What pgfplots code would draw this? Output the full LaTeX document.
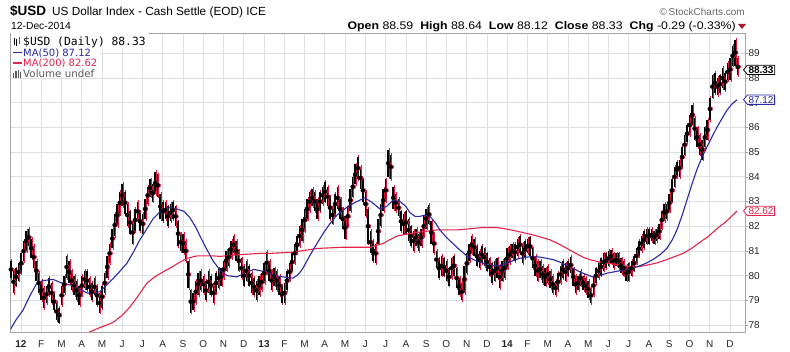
\documentclass[border=0pt]{standalone}
\usepackage{pgfplots}
\usepackage{pgfplotstable}
\pgfplotsset{compat=1.18}
\usepackage{fontspec}
\setmainfont{Liberation Sans}
\newfontfamily\legfont{DejaVu Sans}
\newfontfamily\monofont{DejaVu Sans Mono}
\newfontfamily\widefont[FakeStretch=1.12]{Liberation Sans}
\usetikzlibrary{shapes.symbols}
\definecolor{barred}{RGB}{215,25,60}
\definecolor{mablue}{RGB}{40,40,165}
\definecolor{mared}{RGB}{230,35,75}
\definecolor{gridc}{RGB}{224,224,224}
\definecolor{axc}{RGB}{165,165,165}

\pgfplotstableread{
x lo hi
-0.500 79.9 80.6
-0.375 79.3 80.2
-0.250 79.6 80.3
-0.125 79.8 80.5
0.000 80.1 80.9
0.125 80.6 81.4
0.250 81.0 81.8
0.375 81.2 81.9
0.500 80.7 81.5
0.625 80.3 81.2
0.750 79.8 80.6
0.875 79.3 80.1
1.000 79.0 79.8
1.125 78.7 79.5
1.250 78.9 79.6
1.375 79.2 79.9
1.500 78.9 79.7
1.625 78.6 79.3
1.750 78.2 78.9
1.875 78.1 78.7
2.000 78.8 79.6
2.125 79.3 80.0
2.250 79.9 80.8
2.375 79.7 80.6
2.500 79.4 80.2
2.625 79.2 80.0
2.750 79.0 79.8
2.875 78.8 79.6
3.000 79.2 80.0
3.125 79.5 80.2
3.250 79.4 80.2
3.375 79.2 79.9
3.500 79.0 79.7
3.625 79.2 79.9
3.750 78.8 79.6
3.875 78.5 79.3
4.000 78.7 79.6
4.125 79.3 80.1
4.250 79.9 80.8
4.375 80.5 81.3
4.500 81.1 81.9
4.625 81.6 82.5
4.750 82.0 82.9
4.875 82.5 83.4
5.000 82.8 83.7
5.125 82.5 83.4
5.250 82.0 82.9
5.375 81.7 82.6
5.500 81.3 82.2
5.625 81.8 82.7
5.750 82.2 83.0
5.875 81.8 82.6
6.000 81.7 82.5
6.125 82.3 83.1
6.250 82.9 83.6
6.375 83.2 83.9
6.500 83.0 83.7
6.625 83.3 84.2
6.750 83.2 84.1
6.875 82.3 83.3
7.000 82.2 83.0
7.125 82.3 83.0
7.250 82.0 82.8
7.375 82.2 82.9
7.500 82.3 83.0
7.625 82.0 82.8
7.750 81.2 82.2
7.875 81.0 81.7
8.000 80.9 81.7
8.125 80.6 81.4
8.250 79.5 80.6
8.375 78.5 79.4
8.500 78.6 79.3
8.625 78.9 79.8
8.750 79.2 80.1
8.875 79.4 80.2
9.000 79.3 80.0
9.125 79.0 79.8
9.250 79.3 80.2
9.375 79.2 80.0
9.500 78.9 79.7
9.625 79.3 80.1
9.750 79.5 80.3
9.875 79.6 80.3
10.000 79.9 80.6
10.125 80.2 81.0
10.250 80.4 81.1
10.375 80.7 81.4
10.500 80.9 81.6
10.625 80.6 81.4
10.750 80.2 81.0
10.875 79.9 80.7
11.000 79.6 80.4
11.125 79.8 80.6
11.250 79.6 80.4
11.375 79.3 80.1
11.500 79.2 79.9
11.625 79.0 79.8
11.750 79.2 80.0
11.875 79.4 80.1
12.000 79.7 80.5
12.125 80.1 80.95
12.250 79.8 80.6
12.375 79.4 80.2
12.500 79.6 80.3
12.625 79.4 80.2
12.750 79.2 80.0
12.875 78.9 79.6
13.000 78.9 79.7
13.125 79.4 80.2
13.250 79.8 80.5
13.375 80.2 80.9
13.500 80.5 81.3
13.625 80.9 81.6
13.750 81.2 82.0
13.875 81.4 82.3
14.000 81.8 82.7
14.125 82.3 83.1
14.250 82.6 83.4
14.375 82.8 83.5
14.500 82.6 83.4
14.625 82.3 83.1
14.750 82.6 83.4
14.875 82.9 83.6
15.000 83.0 83.8
15.125 82.8 83.6
15.250 82.3 83.2
15.375 82.1 82.8
15.500 82.5 83.3
15.625 82.7 83.6
15.750 82.3 83.1
15.875 81.9 82.7
16.000 81.5 82.4
16.125 82.0 82.8
16.250 82.6 83.5
16.375 83.2 84.0
16.500 83.7 84.5
16.625 83.9 84.8
16.750 83.5 84.4
16.875 83.0 83.9
17.000 82.4 83.4
17.125 81.3 82.7
17.250 80.9 81.8
17.375 80.6 81.4
17.500 80.5 81.3
17.625 81.3 82.3
17.750 82.0 82.9
17.875 82.6 83.5
18.000 83.0 83.9
18.125 84.0 85.1
18.250 83.9 84.9
18.375 82.7 83.6
18.500 82.6 83.3
18.625 82.4 83.1
18.750 81.8 82.6
18.875 81.7 82.5
19.000 81.7 82.6
19.125 81.4 82.3
19.250 81.2 82.0
19.375 81.0 81.8
19.500 81.2 81.9
19.625 81.0 81.7
19.750 81.2 81.9
19.875 81.6 82.4
20.000 81.9 82.7
20.125 82.1 82.85
20.250 81.3 82.2
20.375 80.9 81.7
20.500 80.3 81.0
20.625 79.9 80.7
20.750 80.0 80.8
20.875 80.0 80.7
21.000 79.8 80.6
21.125 79.6 80.3
21.250 79.9 80.7
21.375 80.0 80.8
21.500 79.5 80.3
21.625 79.2 79.9
21.750 79.0 79.7
21.875 79.3 80.4
22.000 80.1 80.9
22.125 80.6 81.3
22.250 80.9 81.6
22.375 80.8 81.5
22.500 80.4 81.2
22.625 80.3 81.0
22.750 80.5 81.2
22.875 80.4 81.1
23.000 80.2 80.9
23.125 80.0 80.7
23.250 79.7 80.5
23.375 79.8 80.6
23.500 79.9 80.7
23.625 79.5 80.4
23.750 79.8 80.6
23.875 79.9 80.7
24.000 80.3 81.1
24.125 80.5 81.2
24.250 80.7 81.3
24.375 80.6 81.3
24.500 80.8 81.5
24.625 80.9 81.6
24.750 80.5 81.3
24.875 80.7 81.4
25.000 80.9 81.5
25.125 80.8 81.55
25.250 80.3 81.1
25.375 80.0 80.8
25.500 79.8 80.6
25.625 79.9 80.6
25.750 79.7 80.4
25.875 79.6 80.3
26.000 79.7 80.4
26.125 79.5 80.2
26.250 79.3 80.0
26.375 79.2 79.8
26.500 79.4 80.1
26.625 79.7 80.4
26.750 79.9 80.6
26.875 79.8 80.5
27.000 80.0 80.6
27.125 80.1 80.75
27.250 79.6 80.3
27.375 79.3 80.0
27.500 79.4 80.0
27.625 79.6 80.2
27.750 79.4 80.0
27.875 79.3 79.9
28.000 79.1 79.8
28.125 78.9 79.5
28.250 79.2 80.0
28.375 79.7 80.3
28.500 79.9 80.5
28.625 80.0 80.7
28.750 80.2 80.9
28.875 80.3 80.9
29.000 80.4 81.0
29.125 80.5 81.05
29.250 80.3 80.9
29.375 80.4 80.9
29.500 80.3 80.9
29.625 80.1 80.7
29.750 80.0 80.6
29.875 79.8 80.4
30.000 79.8 80.5
30.125 80.0 80.6
30.250 80.2 80.8
30.375 80.5 81.1
30.500 80.8 81.4
30.625 81.0 81.6
30.750 81.1 81.8
30.875 81.3 81.9
31.000 81.3 81.9
31.125 81.4 81.9
31.250 81.3 81.8
31.375 81.4 81.9
31.500 81.5 82.1
31.625 81.9 82.6
31.750 82.2 82.9
31.875 82.3 82.9
32.000 82.6 83.3
32.125 83.0 83.9
32.250 83.6 84.4
32.375 84.0 84.6
32.500 84.0 84.7
32.625 84.4 85.2
32.750 84.9 85.7
32.875 85.4 86.1
33.000 85.7 86.5
33.125 86.1 86.9
33.250 85.5 86.4
33.375 85.2 86.0
33.500 84.9 85.7
33.625 84.7 85.5
33.750 85.2 86.0
33.875 85.5 86.3
34.000 86.3 87.2
34.125 87.2 88.1
34.250 87.4 88.2
34.375 87.3 88.0
34.500 87.4 88.1
34.625 87.6 88.4
34.750 87.5 88.2
34.875 87.9 88.6
35.000 87.9 88.8
35.125 88.5 89.3
35.250 88.5 89.55
35.375 88.1 88.8
}\bars

\pgfplotstableread{
x v
-0.50 77.85
-0.25 78.2
0.10 78.6
0.45 79.2
0.79 79.7
1.09 79.8
1.58 79.85
2.02 79.7
2.57 79.6
3.26 79.3
3.60 79.3
3.90 79.35
4.39 79.75
4.80 80.1
5.23 80.5
5.55 80.95
5.87 81.45
6.22 81.9
6.52 82.3
7.01 82.7
7.35 82.75
7.70 82.7
8.05 82.6
8.34 82.35
8.60 82.0
8.84 81.6
9.15 81.1
9.48 80.6
9.80 80.25
10.17 80.0
10.66 79.95
11.16 80.15
11.50 80.25
11.80 80.2
12.14 80.15
12.50 80.0
12.93 79.95
13.43 79.9
13.70 80.05
13.92 80.3
14.25 80.8
14.61 81.3
14.95 81.75
15.25 82.1
15.60 82.45
15.89 82.65
16.25 82.85
16.58 83.0
16.98 83.15
17.35 82.95
17.72 82.7
18.05 82.8
18.36 83.05
18.71 83.0
19.00 82.8
19.20 82.55
19.45 82.4
19.69 82.4
19.95 82.45
20.19 82.4
20.45 82.15
20.68 81.85
21.00 81.55
21.32 81.3
21.65 81.05
22.01 80.8
22.33 80.65
22.66 80.55
23.00 80.45
23.30 80.4
23.64 80.4
23.95 80.5
24.28 80.6
24.60 80.7
24.98 80.75
25.30 80.78
25.62 80.75
25.95 80.7
26.26 80.65
26.60 80.55
26.95 80.4
27.25 80.3
27.59 80.15
27.90 80.05
28.23 79.95
28.55 80.0
28.92 80.1
29.25 80.15
29.57 80.2
29.90 80.25
30.21 80.3
30.55 80.4
30.85 80.5
31.19 80.65
31.55 80.85
31.88 81.1
32.15 81.45
32.38 81.85
32.62 82.4
32.87 83.05
33.12 83.7
33.37 84.3
33.62 84.8
33.86 85.2
34.10 85.6
34.35 86.0
34.60 86.35
34.85 86.7
35.10 86.95
35.35 87.12
}\mafifty

\pgfplotstableread{
x v
3.00 77.45
3.41 77.73
3.90 77.9
4.54 78.1
5.00 78.4
5.38 78.73
5.80 79.2
6.22 79.7
6.60 79.95
7.01 80.15
7.45 80.35
7.85 80.55
8.19 80.7
8.69 80.8
9.48 80.8
9.82 80.78
10.81 80.85
11.80 80.9
12.29 80.9
13.43 80.95
14.61 81.1
15.89 81.15
17.23 81.15
17.87 81.3
18.20 81.45
18.56 81.6
19.00 81.68
19.55 81.75
20.53 81.85
21.52 81.85
22.20 81.9
22.80 81.95
23.49 81.95
24.00 81.88
24.48 81.8
25.27 81.65
25.70 81.55
26.11 81.45
26.55 81.28
26.95 81.1
27.35 80.92
27.74 80.75
28.15 80.63
28.58 80.55
29.00 80.5
29.42 80.45
29.80 80.4
30.21 80.35
30.60 80.38
31.05 80.45
31.45 80.53
31.88 80.65
32.30 80.78
32.68 80.9
33.10 81.1
33.51 81.35
33.95 81.6
34.35 81.9
34.75 82.15
35.14 82.45
35.35 82.62
}\matwohundred

\begin{document}
\begin{tikzpicture}
\path[use as bounding box] (0pt,0pt) rectangle (790pt,352pt);
\begin{axis}[
  at={(10pt,20pt)}, anchor=south west,
  scale only axis, width=735pt, height=299pt,
  xmin=-0.54, xmax=35.74, ymin=77.72, ymax=89.82,
  axis line style={axc, line width=0.7pt},
  grid=major, major grid style={gridc, line width=0.7pt},
  ytick={78,79,...,89},
  ytick pos=right,
  yticklabel pos=right,
  xtick={0,1,...,35},
  xticklabels={\textbf{12},F,M,A,M,J,J,A,S,O,N,D,\textbf{13},F,M,A,M,J,J,A,S,O,N,D,\textbf{14},F,M,A,M,J,J,A,S,O,N,D},
  tick align=outside,
  major tick length=3pt,
  ytick style={axc, line width=0.6pt},
  xtick style={draw=none},
  ticklabel style={font=\fontsize{10}{12}\selectfont, text=black!85},
  /pgf/number format/assume math mode=true,
  yticklabel style={xshift=-3pt},
  xticklabel style={yshift=-2pt},
]
\addplot[barred, only marks, mark=none, forget plot,
  error bars/.cd, y dir=both, y explicit, error mark=none,
  error bar style={line width=1.0pt, barred}]
  table[x expr=\thisrow{x}+0.05, y expr=0.5*(\thisrow{lo}+\thisrow{hi}), y error expr=0.5*(\thisrow{hi}-\thisrow{lo})+0.07] {\bars};
\addplot[black, only marks, mark=none, forget plot,
  error bars/.cd, y dir=both, y explicit, error mark=none,
  error bar style={line width=1.5pt, black}]
  table[x=x, y expr=0.5*(\thisrow{lo}+\thisrow{hi}), y error expr=0.5*(\thisrow{hi}-\thisrow{lo})] {\bars};
\addplot[mared, line width=1.1pt, no marks] table[x=x, y=v] {\matwohundred};
\addplot[mablue, line width=1.1pt, no marks] table[x=x, y=v] {\mafifty};
\coordinate (e1) at (axis cs:35.74,88.33);
\coordinate (e2) at (axis cs:35.74,87.12);
\coordinate (e3) at (axis cs:35.74,82.62);
\end{axis}

% value boxes on the right
\node[signal, signal to=west, signal pointer angle=100, draw=black, fill=white, line width=0.8pt, inner sep=1.1pt, anchor=west, font=\bfseries\fontsize{10}{11}\selectfont] at ([xshift=-2pt]e1) {88.33};
\node[signal, signal to=west, signal pointer angle=100, draw=mablue, fill=white, line width=0.8pt, inner sep=1.1pt, anchor=west, text=mablue, font=\fontsize{10}{11}\selectfont] at ([xshift=-2pt]e2) {87.12};
\node[signal, signal to=west, signal pointer angle=100, draw=mared, fill=white, line width=0.8pt, inner sep=1.1pt, anchor=west, text=mared, font=\fontsize{10}{11}\selectfont] at ([xshift=-2pt]e3) {82.62};

% header
\node[anchor=base west, inner sep=0pt, font=\bfseries\fontsize{13.5}{15}\selectfont] at (10pt,336pt) {\$USD};
\node[anchor=base west, inner sep=0pt, font=\fontsize{11.8}{13}\selectfont] at (52pt,336pt) {US Dollar Index - Cash Settle (EOD) ICE};
\node[anchor=base west, inner sep=0pt, font=\fontsize{10.3}{12}\selectfont] at (11pt,322.5pt) {12-Dec-2014};
\node[anchor=base east, inner sep=0pt, font=\widefont\fontsize{11}{12}\selectfont] at (736pt,322.5pt) {\textbf{Open} 88.59\hspace{7pt}\textbf{High} 88.64\hspace{7pt}\textbf{Low} 88.12\hspace{7pt}\textbf{Close} 88.33\hspace{7pt}\textbf{Chg} -0.29 (-0.33\%)};
\fill[barred!80!black] (738pt,328pt) -- (746pt,328pt) -- (742pt,323pt) -- cycle;
\node[anchor=base east, inner sep=0pt, text=black!60, font=\fontsize{10}{12}\selectfont] at (745pt,336pt) {\textcopyright\,StockCharts.com};

% legend
\fill[white] (10.6pt,275pt) rectangle (100pt,318.5pt);
\fill[white] (10.6pt,304pt) rectangle (149pt,318.5pt);
\draw[black, line width=0.9pt] (14pt,307pt) -- (14pt,314pt);
\draw[black, line width=0.9pt] (16.5pt,306pt) -- (16.5pt,313pt);
\draw[barred, line width=0.9pt] (19pt,308pt) -- (19pt,315pt);
\node[anchor=base west, inner sep=0pt, font=\monofont\fontsize{11.3}{12}\selectfont] at (23pt,306pt) {\$USD (Daily) 88.33};
\draw[mablue, line width=1.2pt] (13pt,299.5pt) -- (22pt,299.5pt);
\node[anchor=base west, inner sep=0pt, text=mablue, font=\legfont\fontsize{10}{12}\selectfont] at (23pt,295.5pt) {MA(50) 87.12};
\draw[mared, line width=1.2pt] (13pt,289pt) -- (22pt,289pt);
\node[anchor=base west, inner sep=0pt, text=mared, font=\legfont\fontsize{10}{12}\selectfont] at (23pt,285pt) {MA(200) 82.62};
\fill[black!65] (13pt,274pt) rectangle (14.3pt,279pt);
\fill[black!65] (15.3pt,274pt) rectangle (16.6pt,281pt);
\fill[black!65] (17.6pt,274pt) rectangle (18.9pt,282pt);
\fill[black!65] (19.9pt,274pt) rectangle (21.2pt,280pt);
\node[anchor=base west, inner sep=0pt, text=black!65, font=\legfont\fontsize{10.3}{12}\selectfont] at (23pt,274.5pt) {Volume undef};
\end{tikzpicture}
\end{document}
